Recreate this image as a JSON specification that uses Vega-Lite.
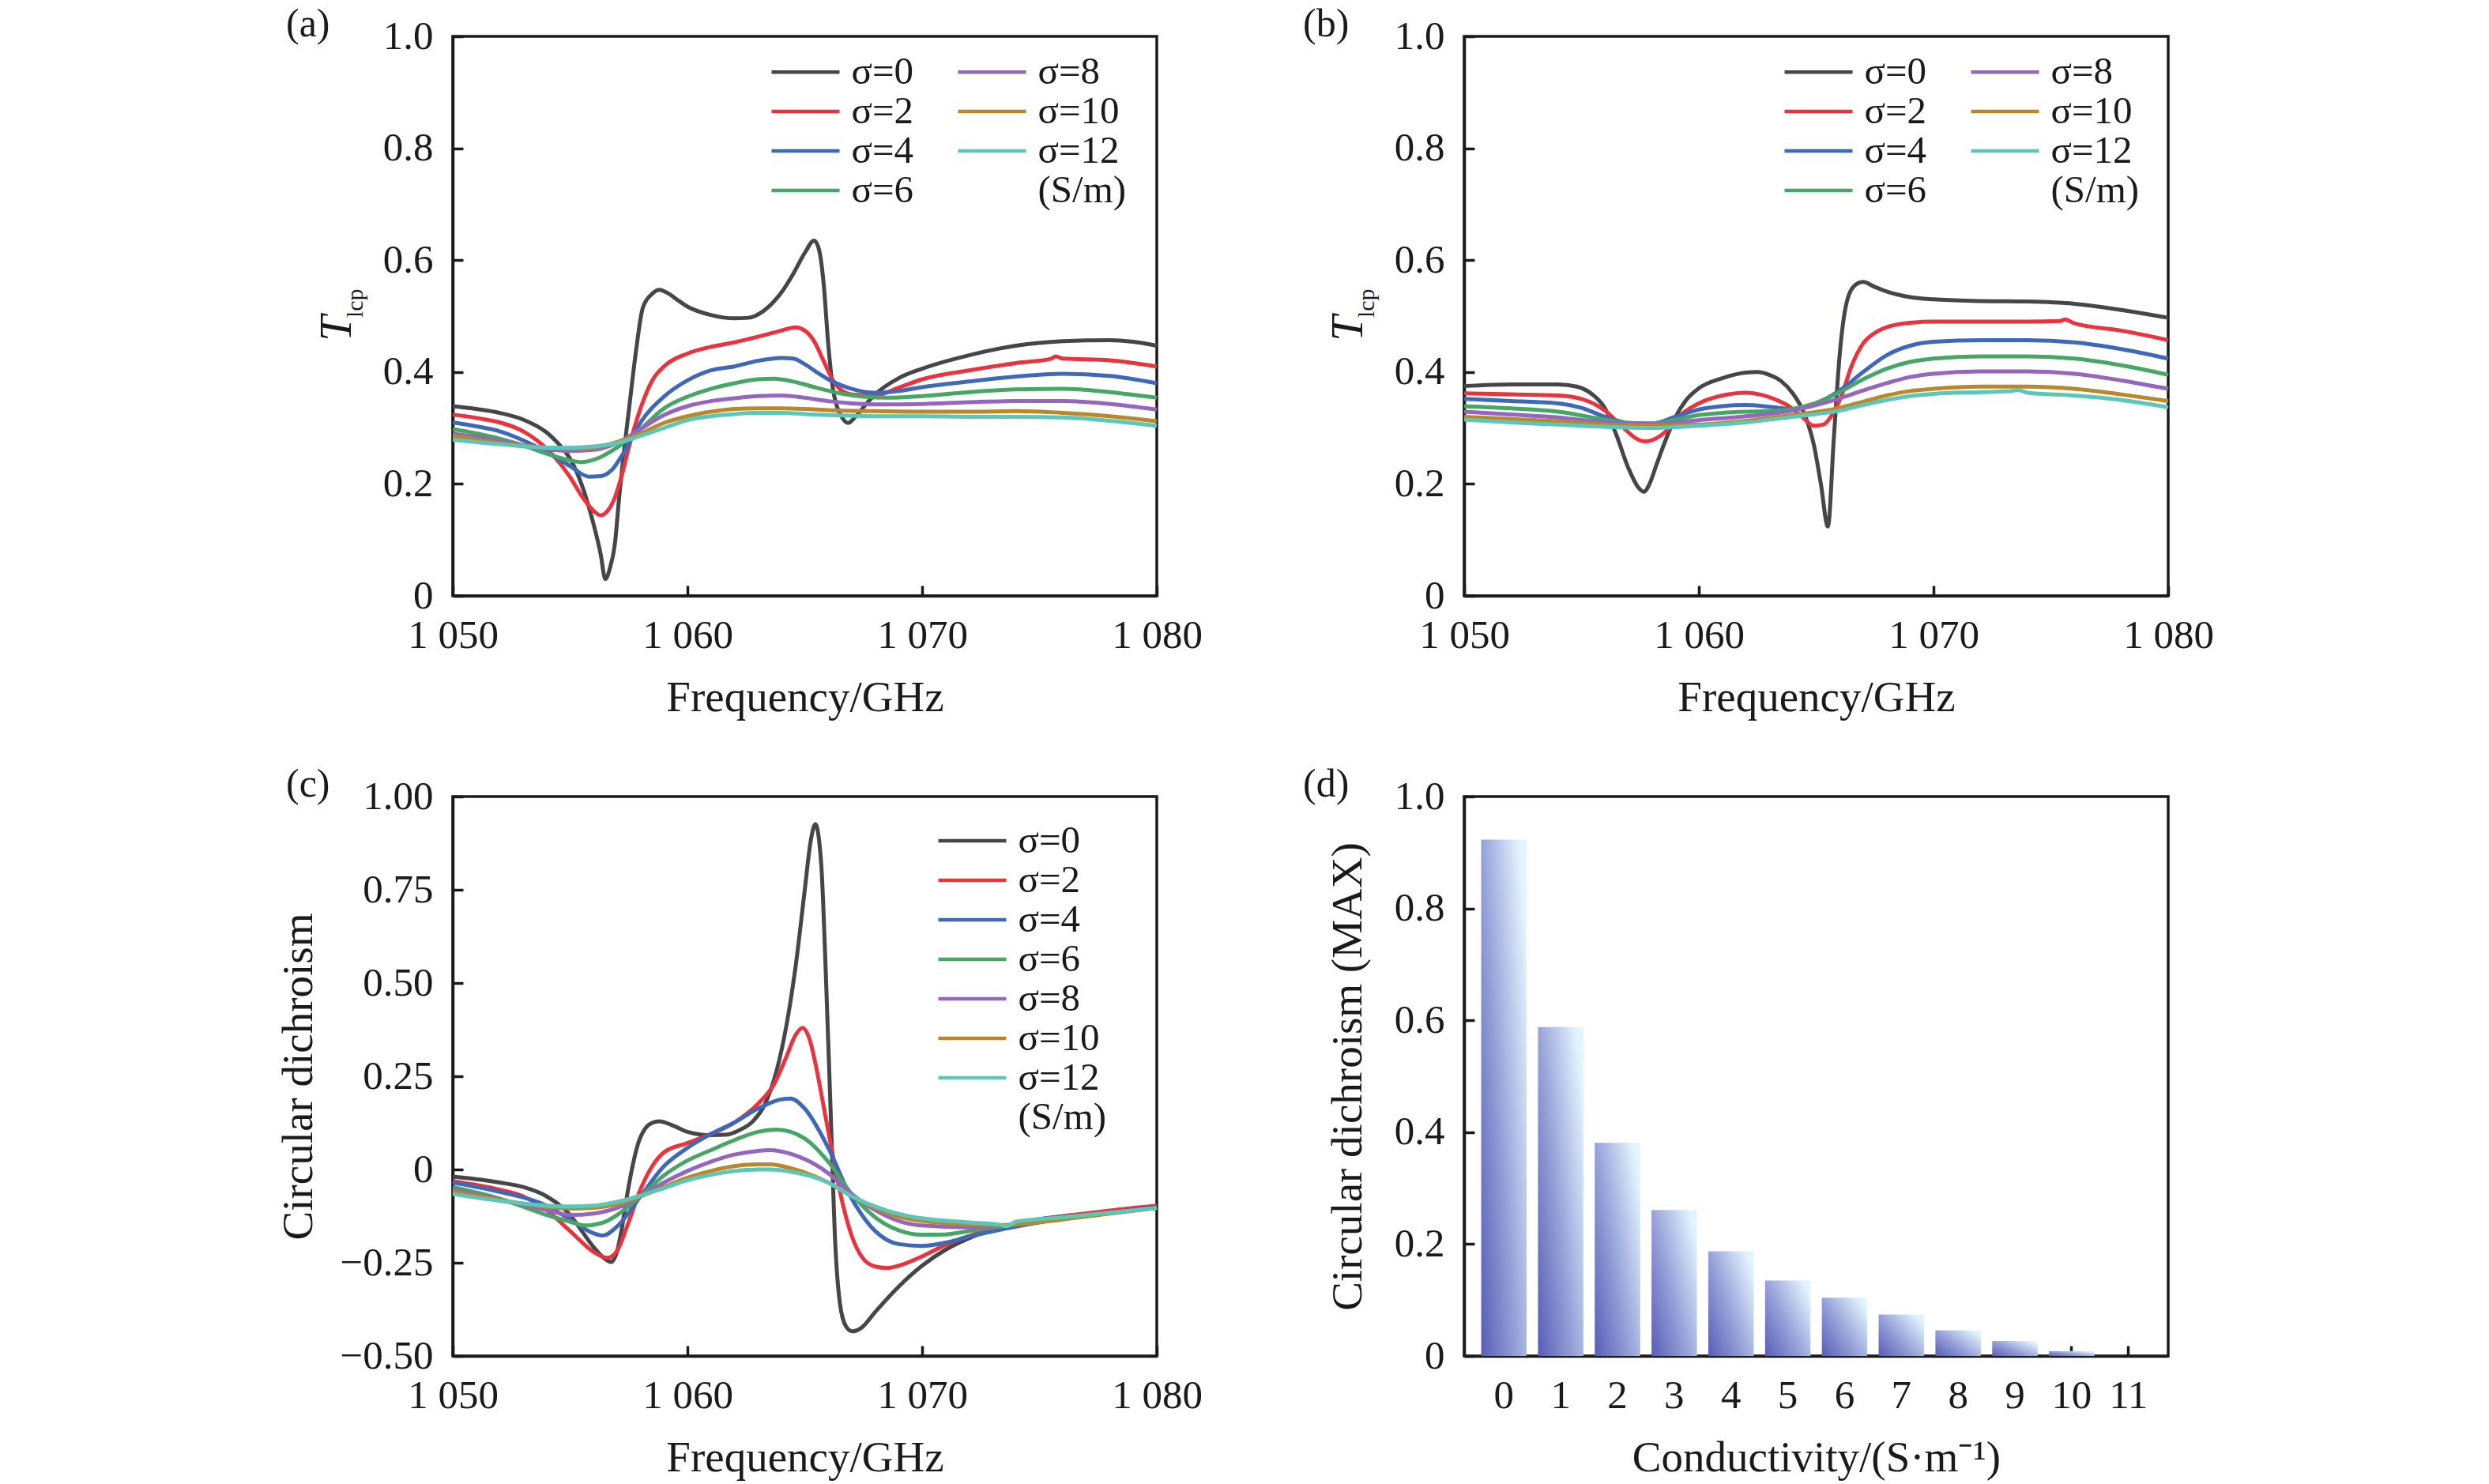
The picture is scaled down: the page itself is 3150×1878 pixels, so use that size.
{
  "$schema": "https://vega.github.io/schema/vega-lite/v6.json",
  "autosize": {"type": "none"},
  "padding": {"left": 573, "top": 46, "right": 2500, "bottom": 1832},
  "background": "white",
  "datasets": {
    "a": [
      {"s":"σ=0","f":1050,"v":0.339},{"s":"σ=0","f":1051,"v":0.334},{"s":"σ=0","f":1052,"v":0.327},{"s":"σ=0","f":1053,"v":0.315},{"s":"σ=0","f":1054,"v":0.292},{"s":"σ=0","f":1054.5,"v":0.272},{"s":"σ=0","f":1055,"v":0.245},{"s":"σ=0","f":1055.5,"v":0.198},{"s":"σ=0","f":1056,"v":0.128},{"s":"σ=0","f":1056.3,"v":0.075},{"s":"σ=0","f":1056.5,"v":0.03},{"s":"σ=0","f":1056.7,"v":0.05},{"s":"σ=0","f":1056.9,"v":0.09},{"s":"σ=0","f":1057.1,"v":0.18},{"s":"σ=0","f":1057.3,"v":0.26},{"s":"σ=0","f":1057.5,"v":0.33},{"s":"σ=0","f":1057.8,"v":0.435},{"s":"σ=0","f":1058.1,"v":0.515},{"s":"σ=0","f":1058.5,"v":0.54},{"s":"σ=0","f":1058.8,"v":0.547},{"s":"σ=0","f":1059.2,"v":0.54},{"s":"σ=0","f":1059.6,"v":0.528},{"s":"σ=0","f":1060,"v":0.517},{"s":"σ=0","f":1061,"v":0.502},{"s":"σ=0","f":1062,"v":0.496},{"s":"σ=0","f":1062.6,"v":0.497},{"s":"σ=0","f":1063.2,"v":0.508},{"s":"σ=0","f":1064,"v":0.542},{"s":"σ=0","f":1064.5,"v":0.575},{"s":"σ=0","f":1065,"v":0.613},{"s":"σ=0","f":1065.4,"v":0.635},{"s":"σ=0","f":1065.6,"v":0.62},{"s":"σ=0","f":1065.8,"v":0.56},{"s":"σ=0","f":1066,"v":0.45},{"s":"σ=0","f":1066.2,"v":0.37},{"s":"σ=0","f":1066.4,"v":0.335},{"s":"σ=0","f":1066.6,"v":0.318},{"s":"σ=0","f":1066.85,"v":0.309},{"s":"σ=0","f":1067.2,"v":0.322},{"s":"σ=0","f":1067.6,"v":0.342},{"s":"σ=0","f":1068,"v":0.36},{"s":"σ=0","f":1069,"v":0.389},{"s":"σ=0","f":1070,"v":0.406},{"s":"σ=0","f":1072,"v":0.43},{"s":"σ=0","f":1074,"v":0.447},{"s":"σ=0","f":1076,"v":0.455},{"s":"σ=0","f":1078,"v":0.457},{"s":"σ=0","f":1079,"v":0.454},{"s":"σ=0","f":1080,"v":0.447},
      {"s":"σ=2","f":1050,"v":0.324},{"s":"σ=2","f":1051,"v":0.318},{"s":"σ=2","f":1052,"v":0.31},{"s":"σ=2","f":1053,"v":0.294},{"s":"σ=2","f":1054,"v":0.263},{"s":"σ=2","f":1055,"v":0.212},{"s":"σ=2","f":1055.5,"v":0.178},{"s":"σ=2","f":1056,"v":0.152},{"s":"σ=2","f":1056.3,"v":0.144},{"s":"σ=2","f":1056.6,"v":0.152},{"s":"σ=2","f":1056.9,"v":0.175},{"s":"σ=2","f":1057.2,"v":0.215},{"s":"σ=2","f":1057.5,"v":0.265},{"s":"σ=2","f":1058,"v":0.335},{"s":"σ=2","f":1058.5,"v":0.385},{"s":"σ=2","f":1059,"v":0.41},{"s":"σ=2","f":1060,"v":0.433},{"s":"σ=2","f":1061,"v":0.445},{"s":"σ=2","f":1062,"v":0.453},{"s":"σ=2","f":1063,"v":0.463},{"s":"σ=2","f":1064,"v":0.474},{"s":"σ=2","f":1064.6,"v":0.48},{"s":"σ=2","f":1065,"v":0.474},{"s":"σ=2","f":1065.4,"v":0.455},{"s":"σ=2","f":1065.8,"v":0.42},{"s":"σ=2","f":1066.2,"v":0.385},{"s":"σ=2","f":1066.6,"v":0.366},{"s":"σ=2","f":1067,"v":0.36},{"s":"σ=2","f":1068,"v":0.358},{"s":"σ=2","f":1069,"v":0.372},{"s":"σ=2","f":1070,"v":0.387},{"s":"σ=2","f":1072,"v":0.403},{"s":"σ=2","f":1074,"v":0.416},{"s":"σ=2","f":1075.5,"v":0.424},{"s":"σ=2","f":1075.7,"v":0.428},{"s":"σ=2","f":1076,"v":0.424},{"s":"σ=2","f":1078,"v":0.421},{"s":"σ=2","f":1080,"v":0.41},
      {"s":"σ=4","f":1050,"v":0.31},{"s":"σ=4","f":1051,"v":0.303},{"s":"σ=4","f":1052,"v":0.294},{"s":"σ=4","f":1053,"v":0.278},{"s":"σ=4","f":1054,"v":0.257},{"s":"σ=4","f":1055,"v":0.232},{"s":"σ=4","f":1055.8,"v":0.213},{"s":"σ=4","f":1056.3,"v":0.214},{"s":"σ=4","f":1056.8,"v":0.226},{"s":"σ=4","f":1057.3,"v":0.257},{"s":"σ=4","f":1058,"v":0.31},{"s":"σ=4","f":1059,"v":0.356},{"s":"σ=4","f":1060,"v":0.385},{"s":"σ=4","f":1061,"v":0.403},{"s":"σ=4","f":1062,"v":0.41},{"s":"σ=4","f":1063,"v":0.42},{"s":"σ=4","f":1064,"v":0.425},{"s":"σ=4","f":1064.5,"v":0.424},{"s":"σ=4","f":1065,"v":0.414},{"s":"σ=4","f":1065.5,"v":0.4},{"s":"σ=4","f":1066,"v":0.387},{"s":"σ=4","f":1067,"v":0.37},{"s":"σ=4","f":1068,"v":0.363},{"s":"σ=4","f":1069,"v":0.366},{"s":"σ=4","f":1070,"v":0.373},{"s":"σ=4","f":1072,"v":0.383},{"s":"σ=4","f":1074,"v":0.392},{"s":"σ=4","f":1076,"v":0.397},{"s":"σ=4","f":1078,"v":0.393},{"s":"σ=4","f":1080,"v":0.38},
      {"s":"σ=6","f":1050,"v":0.298},{"s":"σ=6","f":1052,"v":0.281},{"s":"σ=6","f":1053,"v":0.269},{"s":"σ=6","f":1054,"v":0.254},{"s":"σ=6","f":1055,"v":0.242},{"s":"σ=6","f":1055.5,"v":0.239},{"s":"σ=6","f":1056,"v":0.243},{"s":"σ=6","f":1057,"v":0.265},{"s":"σ=6","f":1058,"v":0.298},{"s":"σ=6","f":1059,"v":0.335},{"s":"σ=6","f":1060,"v":0.356},{"s":"σ=6","f":1061,"v":0.37},{"s":"σ=6","f":1062,"v":0.38},{"s":"σ=6","f":1063,"v":0.387},{"s":"σ=6","f":1063.7,"v":0.388},{"s":"σ=6","f":1064.5,"v":0.383},{"s":"σ=6","f":1065.5,"v":0.372},{"s":"σ=6","f":1066.5,"v":0.362},{"s":"σ=6","f":1067.5,"v":0.356},{"s":"σ=6","f":1068.5,"v":0.354},{"s":"σ=6","f":1070,"v":0.357},{"s":"σ=6","f":1072,"v":0.364},{"s":"σ=6","f":1074,"v":0.369},{"s":"σ=6","f":1076,"v":0.37},{"s":"σ=6","f":1078,"v":0.364},{"s":"σ=6","f":1080,"v":0.354},
      {"s":"σ=8","f":1050,"v":0.29},{"s":"σ=8","f":1052,"v":0.277},{"s":"σ=8","f":1053,"v":0.269},{"s":"σ=8","f":1054,"v":0.262},{"s":"σ=8","f":1055,"v":0.259},{"s":"σ=8","f":1056,"v":0.261},{"s":"σ=8","f":1057,"v":0.273},{"s":"σ=8","f":1058,"v":0.298},{"s":"σ=8","f":1059,"v":0.323},{"s":"σ=8","f":1060,"v":0.339},{"s":"σ=8","f":1061,"v":0.348},{"s":"σ=8","f":1062,"v":0.353},{"s":"σ=8","f":1063,"v":0.357},{"s":"σ=8","f":1064,"v":0.358},{"s":"σ=8","f":1065,"v":0.354},{"s":"σ=8","f":1066,"v":0.348},{"s":"σ=8","f":1067,"v":0.344},{"s":"σ=8","f":1068,"v":0.342},{"s":"σ=8","f":1070,"v":0.343},{"s":"σ=8","f":1072,"v":0.346},{"s":"σ=8","f":1074,"v":0.348},{"s":"σ=8","f":1076,"v":0.348},{"s":"σ=8","f":1078,"v":0.343},{"s":"σ=8","f":1080,"v":0.333},
      {"s":"σ=10","f":1050,"v":0.286},{"s":"σ=10","f":1052,"v":0.273},{"s":"σ=10","f":1054,"v":0.265},{"s":"σ=10","f":1055,"v":0.263},{"s":"σ=10","f":1056,"v":0.265},{"s":"σ=10","f":1057,"v":0.275},{"s":"σ=10","f":1058,"v":0.29},{"s":"σ=10","f":1059,"v":0.309},{"s":"σ=10","f":1060,"v":0.321},{"s":"σ=10","f":1061,"v":0.329},{"s":"σ=10","f":1062,"v":0.334},{"s":"σ=10","f":1063,"v":0.335},{"s":"σ=10","f":1064,"v":0.335},{"s":"σ=10","f":1065,"v":0.334},{"s":"σ=10","f":1066,"v":0.332},{"s":"σ=10","f":1068,"v":0.33},{"s":"σ=10","f":1070,"v":0.329},{"s":"σ=10","f":1072,"v":0.329},{"s":"σ=10","f":1074,"v":0.33},{"s":"σ=10","f":1076,"v":0.327},{"s":"σ=10","f":1078,"v":0.321},{"s":"σ=10","f":1080,"v":0.312},
      {"s":"σ=12","f":1050,"v":0.279},{"s":"σ=12","f":1052,"v":0.271},{"s":"σ=12","f":1054,"v":0.265},{"s":"σ=12","f":1055,"v":0.265},{"s":"σ=12","f":1056,"v":0.267},{"s":"σ=12","f":1057,"v":0.273},{"s":"σ=12","f":1058,"v":0.286},{"s":"σ=12","f":1059,"v":0.3},{"s":"σ=12","f":1060,"v":0.314},{"s":"σ=12","f":1061,"v":0.321},{"s":"σ=12","f":1062,"v":0.325},{"s":"σ=12","f":1063,"v":0.327},{"s":"σ=12","f":1064,"v":0.327},{"s":"σ=12","f":1065,"v":0.325},{"s":"σ=12","f":1066,"v":0.323},{"s":"σ=12","f":1068,"v":0.321},{"s":"σ=12","f":1070,"v":0.321},{"s":"σ=12","f":1072,"v":0.32},{"s":"σ=12","f":1074,"v":0.32},{"s":"σ=12","f":1076,"v":0.319},{"s":"σ=12","f":1078,"v":0.313},{"s":"σ=12","f":1080,"v":0.304}
    ],
    "b": [
      {"s":"σ=0","f":1050,"v":0.375},{"s":"σ=0","f":1052,"v":0.378},{"s":"σ=0","f":1054,"v":0.378},{"s":"σ=0","f":1054.8,"v":0.374},{"s":"σ=0","f":1055.4,"v":0.362},{"s":"σ=0","f":1056,"v":0.335},{"s":"σ=0","f":1056.5,"v":0.286},{"s":"σ=0","f":1057,"v":0.228},{"s":"σ=0","f":1057.4,"v":0.195},{"s":"σ=0","f":1057.65,"v":0.186},{"s":"σ=0","f":1057.9,"v":0.2},{"s":"σ=0","f":1058.2,"v":0.235},{"s":"σ=0","f":1058.6,"v":0.28},{"s":"σ=0","f":1059,"v":0.319},{"s":"σ=0","f":1059.5,"v":0.352},{"s":"σ=0","f":1060,"v":0.371},{"s":"σ=0","f":1061,"v":0.389},{"s":"σ=0","f":1062,"v":0.399},{"s":"σ=0","f":1062.5,"v":0.4},{"s":"σ=0","f":1063,"v":0.395},{"s":"σ=0","f":1063.5,"v":0.384},{"s":"σ=0","f":1064,"v":0.362},{"s":"σ=0","f":1064.5,"v":0.325},{"s":"σ=0","f":1064.9,"v":0.27},{"s":"σ=0","f":1065.2,"v":0.2},{"s":"σ=0","f":1065.5,"v":0.124},{"s":"σ=0","f":1065.75,"v":0.28},{"s":"σ=0","f":1066,"v":0.43},{"s":"σ=0","f":1066.25,"v":0.515},{"s":"σ=0","f":1066.6,"v":0.553},{"s":"σ=0","f":1067,"v":0.561},{"s":"σ=0","f":1067.5,"v":0.552},{"s":"σ=0","f":1068,"v":0.544},{"s":"σ=0","f":1069,"v":0.534},{"s":"σ=0","f":1070,"v":0.53},{"s":"σ=0","f":1072,"v":0.527},{"s":"σ=0","f":1074,"v":0.526},{"s":"σ=0","f":1076,"v":0.522},{"s":"σ=0","f":1078,"v":0.511},{"s":"σ=0","f":1080,"v":0.497},
      {"s":"σ=2","f":1050,"v":0.362},{"s":"σ=2","f":1052,"v":0.36},{"s":"σ=2","f":1054,"v":0.358},{"s":"σ=2","f":1055,"v":0.352},{"s":"σ=2","f":1056,"v":0.331},{"s":"σ=2","f":1056.8,"v":0.3},{"s":"σ=2","f":1057.3,"v":0.282},{"s":"σ=2","f":1057.7,"v":0.276},{"s":"σ=2","f":1058.2,"v":0.282},{"s":"σ=2","f":1058.7,"v":0.298},{"s":"σ=2","f":1059.2,"v":0.322},{"s":"σ=2","f":1060,"v":0.344},{"s":"σ=2","f":1061,"v":0.358},{"s":"σ=2","f":1062,"v":0.363},{"s":"σ=2","f":1062.6,"v":0.36},{"s":"σ=2","f":1063.2,"v":0.352},{"s":"σ=2","f":1063.8,"v":0.34},{"s":"σ=2","f":1064.4,"v":0.32},{"s":"σ=2","f":1064.9,"v":0.304},{"s":"σ=2","f":1065.3,"v":0.306},{"s":"σ=2","f":1065.7,"v":0.325},{"s":"σ=2","f":1066.1,"v":0.36},{"s":"σ=2","f":1066.5,"v":0.41},{"s":"σ=2","f":1067,"v":0.451},{"s":"σ=2","f":1067.5,"v":0.47},{"s":"σ=2","f":1068,"v":0.48},{"s":"σ=2","f":1069,"v":0.488},{"s":"σ=2","f":1070,"v":0.49},{"s":"σ=2","f":1072,"v":0.49},{"s":"σ=2","f":1074,"v":0.49},{"s":"σ=2","f":1075.4,"v":0.491},{"s":"σ=2","f":1075.6,"v":0.494},{"s":"σ=2","f":1076,"v":0.487},{"s":"σ=2","f":1078,"v":0.474},{"s":"σ=2","f":1080,"v":0.457},
      {"s":"σ=4","f":1050,"v":0.352},{"s":"σ=4","f":1052,"v":0.348},{"s":"σ=4","f":1054,"v":0.344},{"s":"σ=4","f":1055,"v":0.336},{"s":"σ=4","f":1056,"v":0.32},{"s":"σ=4","f":1057,"v":0.309},{"s":"σ=4","f":1058,"v":0.308},{"s":"σ=4","f":1059,"v":0.32},{"s":"σ=4","f":1060,"v":0.333},{"s":"σ=4","f":1061,"v":0.339},{"s":"σ=4","f":1062,"v":0.341},{"s":"σ=4","f":1063,"v":0.338},{"s":"σ=4","f":1064,"v":0.334},{"s":"σ=4","f":1065,"v":0.344},{"s":"σ=4","f":1066,"v":0.367},{"s":"σ=4","f":1067,"v":0.4},{"s":"σ=4","f":1068,"v":0.43},{"s":"σ=4","f":1069,"v":0.447},{"s":"σ=4","f":1070,"v":0.454},{"s":"σ=4","f":1072,"v":0.457},{"s":"σ=4","f":1074,"v":0.457},{"s":"σ=4","f":1076,"v":0.453},{"s":"σ=4","f":1078,"v":0.441},{"s":"σ=4","f":1080,"v":0.424},
      {"s":"σ=6","f":1050,"v":0.339},{"s":"σ=6","f":1052,"v":0.335},{"s":"σ=6","f":1054,"v":0.329},{"s":"σ=6","f":1056,"v":0.315},{"s":"σ=6","f":1057,"v":0.309},{"s":"σ=6","f":1058,"v":0.308},{"s":"σ=6","f":1059,"v":0.315},{"s":"σ=6","f":1060,"v":0.323},{"s":"σ=6","f":1061,"v":0.327},{"s":"σ=6","f":1062,"v":0.329},{"s":"σ=6","f":1063,"v":0.33},{"s":"σ=6","f":1064,"v":0.334},{"s":"σ=6","f":1065,"v":0.345},{"s":"σ=6","f":1066,"v":0.364},{"s":"σ=6","f":1067,"v":0.387},{"s":"σ=6","f":1068,"v":0.406},{"s":"σ=6","f":1069,"v":0.418},{"s":"σ=6","f":1070,"v":0.424},{"s":"σ=6","f":1072,"v":0.428},{"s":"σ=6","f":1074,"v":0.428},{"s":"σ=6","f":1076,"v":0.424},{"s":"σ=6","f":1078,"v":0.412},{"s":"σ=6","f":1080,"v":0.395},
      {"s":"σ=8","f":1050,"v":0.329},{"s":"σ=8","f":1052,"v":0.324},{"s":"σ=8","f":1054,"v":0.319},{"s":"σ=8","f":1056,"v":0.31},{"s":"σ=8","f":1058,"v":0.307},{"s":"σ=8","f":1060,"v":0.314},{"s":"σ=8","f":1062,"v":0.321},{"s":"σ=8","f":1064,"v":0.331},{"s":"σ=8","f":1065,"v":0.341},{"s":"σ=8","f":1066,"v":0.353},{"s":"σ=8","f":1067,"v":0.367},{"s":"σ=8","f":1068,"v":0.38},{"s":"σ=8","f":1069,"v":0.391},{"s":"σ=8","f":1070,"v":0.397},{"s":"σ=8","f":1072,"v":0.401},{"s":"σ=8","f":1074,"v":0.401},{"s":"σ=8","f":1076,"v":0.397},{"s":"σ=8","f":1078,"v":0.385},{"s":"σ=8","f":1080,"v":0.37},
      {"s":"σ=10","f":1050,"v":0.32},{"s":"σ=10","f":1052,"v":0.316},{"s":"σ=10","f":1054,"v":0.312},{"s":"σ=10","f":1056,"v":0.306},{"s":"σ=10","f":1058,"v":0.304},{"s":"σ=10","f":1060,"v":0.306},{"s":"σ=10","f":1062,"v":0.313},{"s":"σ=10","f":1064,"v":0.323},{"s":"σ=10","f":1066,"v":0.336},{"s":"σ=10","f":1067,"v":0.347},{"s":"σ=10","f":1068,"v":0.358},{"s":"σ=10","f":1069,"v":0.366},{"s":"σ=10","f":1070,"v":0.37},{"s":"σ=10","f":1072,"v":0.374},{"s":"σ=10","f":1074,"v":0.374},{"s":"σ=10","f":1076,"v":0.37},{"s":"σ=10","f":1078,"v":0.36},{"s":"σ=10","f":1080,"v":0.348},
      {"s":"σ=12","f":1050,"v":0.315},{"s":"σ=12","f":1052,"v":0.31},{"s":"σ=12","f":1054,"v":0.306},{"s":"σ=12","f":1056,"v":0.302},{"s":"σ=12","f":1058,"v":0.3},{"s":"σ=12","f":1060,"v":0.304},{"s":"σ=12","f":1062,"v":0.31},{"s":"σ=12","f":1064,"v":0.32},{"s":"σ=12","f":1066,"v":0.331},{"s":"σ=12","f":1067,"v":0.341},{"s":"σ=12","f":1068,"v":0.35},{"s":"σ=12","f":1069,"v":0.357},{"s":"σ=12","f":1070,"v":0.361},{"s":"σ=12","f":1072,"v":0.364},{"s":"σ=12","f":1073.3,"v":0.366},{"s":"σ=12","f":1073.6,"v":0.368},{"s":"σ=12","f":1074,"v":0.363},{"s":"σ=12","f":1076,"v":0.358},{"s":"σ=12","f":1078,"v":0.35},{"s":"σ=12","f":1080,"v":0.337}
    ],
    "c": [
      {"s":"σ=0","f":1050,"v":-0.019},{"s":"σ=0","f":1051,"v":-0.026},{"s":"σ=0","f":1052,"v":-0.035},{"s":"σ=0","f":1053,"v":-0.047},{"s":"σ=0","f":1054,"v":-0.072},{"s":"σ=0","f":1055,"v":-0.122},{"s":"σ=0","f":1055.5,"v":-0.165},{"s":"σ=0","f":1056,"v":-0.208},{"s":"σ=0","f":1056.4,"v":-0.235},{"s":"σ=0","f":1056.75,"v":-0.248},{"s":"σ=0","f":1057,"v":-0.22},{"s":"σ=0","f":1057.2,"v":-0.16},{"s":"σ=0","f":1057.4,"v":-0.08},{"s":"σ=0","f":1057.6,"v":-0.01},{"s":"σ=0","f":1057.9,"v":0.07},{"s":"σ=0","f":1058.2,"v":0.11},{"s":"σ=0","f":1058.5,"v":0.125},{"s":"σ=0","f":1058.8,"v":0.129},{"s":"σ=0","f":1059.3,"v":0.12},{"s":"σ=0","f":1060,"v":0.101},{"s":"σ=0","f":1061,"v":0.092},{"s":"σ=0","f":1061.6,"v":0.093},{"s":"σ=0","f":1062.2,"v":0.105},{"s":"σ=0","f":1062.8,"v":0.13},{"s":"σ=0","f":1063.3,"v":0.175},{"s":"σ=0","f":1063.8,"v":0.265},{"s":"σ=0","f":1064.2,"v":0.38},{"s":"σ=0","f":1064.6,"v":0.54},{"s":"σ=0","f":1065,"v":0.75},{"s":"σ=0","f":1065.25,"v":0.88},{"s":"σ=0","f":1065.45,"v":0.926},{"s":"σ=0","f":1065.7,"v":0.82},{"s":"σ=0","f":1065.9,"v":0.52},{"s":"σ=0","f":1066.1,"v":0.16},{"s":"σ=0","f":1066.3,"v":-0.2},{"s":"σ=0","f":1066.5,"v":-0.36},{"s":"σ=0","f":1066.75,"v":-0.42},{"s":"σ=0","f":1067.03,"v":-0.434},{"s":"σ=0","f":1067.4,"v":-0.425},{"s":"σ=0","f":1068,"v":-0.382},{"s":"σ=0","f":1069,"v":-0.314},{"s":"σ=0","f":1070,"v":-0.258},{"s":"σ=0","f":1071,"v":-0.215},{"s":"σ=0","f":1072,"v":-0.184},{"s":"σ=0","f":1074,"v":-0.144},{"s":"σ=0","f":1076,"v":-0.125},{"s":"σ=0","f":1078,"v":-0.113},{"s":"σ=0","f":1080,"v":-0.098},
      {"s":"σ=2","f":1050,"v":-0.031},{"s":"σ=2","f":1052,"v":-0.054},{"s":"σ=2","f":1053,"v":-0.072},{"s":"σ=2","f":1054,"v":-0.109},{"s":"σ=2","f":1055,"v":-0.165},{"s":"σ=2","f":1056,"v":-0.221},{"s":"σ=2","f":1056.6,"v":-0.237},{"s":"σ=2","f":1057,"v":-0.218},{"s":"σ=2","f":1057.5,"v":-0.14},{"s":"σ=2","f":1058,"v":-0.053},{"s":"σ=2","f":1058.5,"v":0.009},{"s":"σ=2","f":1059,"v":0.046},{"s":"σ=2","f":1060,"v":0.071},{"s":"σ=2","f":1061,"v":0.095},{"s":"σ=2","f":1062,"v":0.126},{"s":"σ=2","f":1063,"v":0.176},{"s":"σ=2","f":1063.7,"v":0.23},{"s":"σ=2","f":1064.2,"v":0.3},{"s":"σ=2","f":1064.6,"v":0.36},{"s":"σ=2","f":1064.9,"v":0.38},{"s":"σ=2","f":1065.2,"v":0.35},{"s":"σ=2","f":1065.5,"v":0.27},{"s":"σ=2","f":1065.8,"v":0.17},{"s":"σ=2","f":1066.1,"v":0.07},{"s":"σ=2","f":1066.5,"v":-0.06},{"s":"σ=2","f":1067,"v":-0.178},{"s":"σ=2","f":1067.5,"v":-0.24},{"s":"σ=2","f":1068,"v":-0.26},{"s":"σ=2","f":1068.5,"v":-0.264},{"s":"σ=2","f":1069,"v":-0.258},{"s":"σ=2","f":1070,"v":-0.233},{"s":"σ=2","f":1071,"v":-0.202},{"s":"σ=2","f":1072,"v":-0.178},{"s":"σ=2","f":1074,"v":-0.147},{"s":"σ=2","f":1076,"v":-0.126},{"s":"σ=2","f":1078,"v":-0.11},{"s":"σ=2","f":1080,"v":-0.097},
      {"s":"σ=4","f":1050,"v":-0.035},{"s":"σ=4","f":1052,"v":-0.06},{"s":"σ=4","f":1054,"v":-0.097},{"s":"σ=4","f":1055,"v":-0.134},{"s":"σ=4","f":1056,"v":-0.171},{"s":"σ=4","f":1056.4,"v":-0.177},{"s":"σ=4","f":1057,"v":-0.153},{"s":"σ=4","f":1058,"v":-0.072},{"s":"σ=4","f":1059,"v":0.009},{"s":"σ=4","f":1060,"v":0.058},{"s":"σ=4","f":1061,"v":0.095},{"s":"σ=4","f":1062,"v":0.126},{"s":"σ=4","f":1063,"v":0.163},{"s":"σ=4","f":1064,"v":0.188},{"s":"σ=4","f":1064.4,"v":0.19},{"s":"σ=4","f":1065,"v":0.163},{"s":"σ=4","f":1066,"v":0.058},{"s":"σ=4","f":1067,"v":-0.078},{"s":"σ=4","f":1068,"v":-0.165},{"s":"σ=4","f":1069,"v":-0.2},{"s":"σ=4","f":1070,"v":-0.205},{"s":"σ=4","f":1071,"v":-0.196},{"s":"σ=4","f":1072,"v":-0.18},{"s":"σ=4","f":1074,"v":-0.153},{"s":"σ=4","f":1076,"v":-0.132},{"s":"σ=4","f":1078,"v":-0.116},{"s":"σ=4","f":1080,"v":-0.1},
      {"s":"σ=6","f":1050,"v":-0.047},{"s":"σ=6","f":1052,"v":-0.078},{"s":"σ=6","f":1054,"v":-0.122},{"s":"σ=6","f":1055,"v":-0.14},{"s":"σ=6","f":1055.6,"v":-0.15},{"s":"σ=6","f":1056.5,"v":-0.14},{"s":"σ=6","f":1057,"v":-0.122},{"s":"σ=6","f":1058,"v":-0.072},{"s":"σ=6","f":1059,"v":-0.016},{"s":"σ=6","f":1060,"v":0.024},{"s":"σ=6","f":1061,"v":0.052},{"s":"σ=6","f":1062,"v":0.079},{"s":"σ=6","f":1063,"v":0.101},{"s":"σ=6","f":1063.8,"v":0.107},{"s":"σ=6","f":1065,"v":0.083},{"s":"σ=6","f":1066,"v":0.021},{"s":"σ=6","f":1067,"v":-0.066},{"s":"σ=6","f":1068,"v":-0.128},{"s":"σ=6","f":1069,"v":-0.163},{"s":"σ=6","f":1070,"v":-0.175},{"s":"σ=6","f":1071,"v":-0.174},{"s":"σ=6","f":1072,"v":-0.165},{"s":"σ=6","f":1074,"v":-0.147},{"s":"σ=6","f":1076,"v":-0.13},{"s":"σ=6","f":1078,"v":-0.116},{"s":"σ=6","f":1080,"v":-0.103},
      {"s":"σ=8","f":1050,"v":-0.054},{"s":"σ=8","f":1052,"v":-0.081},{"s":"σ=8","f":1054,"v":-0.109},{"s":"σ=8","f":1055,"v":-0.122},{"s":"σ=8","f":1056,"v":-0.118},{"s":"σ=8","f":1057,"v":-0.103},{"s":"σ=8","f":1058,"v":-0.072},{"s":"σ=8","f":1059,"v":-0.035},{"s":"σ=8","f":1060,"v":-0.004},{"s":"σ=8","f":1061,"v":0.021},{"s":"σ=8","f":1062,"v":0.04},{"s":"σ=8","f":1063,"v":0.05},{"s":"σ=8","f":1063.5,"v":0.052},{"s":"σ=8","f":1064.5,"v":0.04},{"s":"σ=8","f":1066,"v":-0.01},{"s":"σ=8","f":1067,"v":-0.066},{"s":"σ=8","f":1068,"v":-0.109},{"s":"σ=8","f":1069,"v":-0.138},{"s":"σ=8","f":1070,"v":-0.15},{"s":"σ=8","f":1072,"v":-0.155},{"s":"σ=8","f":1073,"v":-0.153},{"s":"σ=8","f":1074,"v":-0.147},{"s":"σ=8","f":1076,"v":-0.132},{"s":"σ=8","f":1078,"v":-0.116},{"s":"σ=8","f":1080,"v":-0.103},
      {"s":"σ=10","f":1050,"v":-0.06},{"s":"σ=10","f":1052,"v":-0.082},{"s":"σ=10","f":1054,"v":-0.1},{"s":"σ=10","f":1055,"v":-0.105},{"s":"σ=10","f":1056,"v":-0.103},{"s":"σ=10","f":1057,"v":-0.093},{"s":"σ=10","f":1058,"v":-0.072},{"s":"σ=10","f":1059,"v":-0.047},{"s":"σ=10","f":1060,"v":-0.022},{"s":"σ=10","f":1061,"v":-0.004},{"s":"σ=10","f":1062,"v":0.009},{"s":"σ=10","f":1063,"v":0.014},{"s":"σ=10","f":1063.5,"v":0.014},{"s":"σ=10","f":1064.5,"v":0.002},{"s":"σ=10","f":1066,"v":-0.035},{"s":"σ=10","f":1067,"v":-0.072},{"s":"σ=10","f":1068,"v":-0.103},{"s":"σ=10","f":1069,"v":-0.126},{"s":"σ=10","f":1070,"v":-0.138},{"s":"σ=10","f":1072,"v":-0.147},{"s":"σ=10","f":1073.5,"v":-0.149},{"s":"σ=10","f":1074,"v":-0.147},{"s":"σ=10","f":1076,"v":-0.134},{"s":"σ=10","f":1078,"v":-0.118},{"s":"σ=10","f":1080,"v":-0.103},
      {"s":"σ=12","f":1050,"v":-0.066},{"s":"σ=12","f":1052,"v":-0.084},{"s":"σ=12","f":1054,"v":-0.097},{"s":"σ=12","f":1055,"v":-0.099},{"s":"σ=12","f":1056,"v":-0.097},{"s":"σ=12","f":1057,"v":-0.087},{"s":"σ=12","f":1058,"v":-0.07},{"s":"σ=12","f":1059,"v":-0.05},{"s":"σ=12","f":1060,"v":-0.029},{"s":"σ=12","f":1061,"v":-0.014},{"s":"σ=12","f":1062,"v":-0.004},{"s":"σ=12","f":1063,"v":0.0},{"s":"σ=12","f":1063.5,"v":0.0},{"s":"σ=12","f":1064.5,"v":-0.007},{"s":"σ=12","f":1066,"v":-0.035},{"s":"σ=12","f":1067,"v":-0.072},{"s":"σ=12","f":1068,"v":-0.099},{"s":"σ=12","f":1069,"v":-0.119},{"s":"σ=12","f":1070,"v":-0.131},{"s":"σ=12","f":1072,"v":-0.142},{"s":"σ=12","f":1073.3,"v":-0.148},{"s":"σ=12","f":1073.6,"v":-0.152},{"s":"σ=12","f":1074,"v":-0.14},{"s":"σ=12","f":1076,"v":-0.128},{"s":"σ=12","f":1078,"v":-0.116},{"s":"σ=12","f":1080,"v":-0.103}
    ],
    "d": [
      {"c":0,"m":0.923},{"c":1,"m":0.588},{"c":2,"m":0.381},{"c":3,"m":0.261},{"c":4,"m":0.187},{"c":5,"m":0.135},{"c":6,"m":0.104},{"c":7,"m":0.074},{"c":8,"m":0.046},{"c":9,"m":0.027},{"c":10,"m":0.009},{"c":11,"m":0}
    ]
  },
  "columns": 2,
  "spacing": {"row": 254, "column": 389},
  "bounds": "flush",
  "resolve": {
    "scale": {"x": "independent", "y": "independent", "color": "independent"},
    "legend": {"color": "independent"}
  },
  "concat": [
    {
      "width": 891,
      "height": 708,
      "title": {"text": "(a)", "dx": -211, "dy": 40},
      "layer": [
        {
          "data": {"name": "a"},
          "mark": {"type": "line", "interpolate": "monotone", "strokeWidth": 5},
          "encoding": {
            "x": {"field": "f", "type": "quantitative", "scale": {"domain": [1050, 1080], "nice": false, "zero": false},
              "axis": {"values": [1050, 1060, 1070, 1080], "labelExpr": "'1 ' + substring(toString(datum.value), 1)", "title": "Frequency/GHz", "titlePadding": 27}},
            "y": {"field": "v", "type": "quantitative", "scale": {"domain": [0, 1], "nice": false},
              "axis": {"values": [0, 0.2, 0.4, 0.6, 0.8, 1], "labelExpr": "datum.value == 0 ? '0' : format(datum.value, '.1f')", "title": "T", "titleFontStyle": "italic", "titleFontSize": 58, "titleY": 369, "titlePadding": 29}},
            "color": {"field": "s", "type": "nominal",
              "scale": {"domain": ["σ=0", "σ=2", "σ=4", "σ=6", "σ=8", "σ=10", "σ=12", "(S/m)"],
                "range": ["#46464a", "#e8343f", "#3e68b8", "#47a565", "#9466bd", "#b8892b", "#5cc6b8", "transparent"]},
              "legend": {"orient": "none", "legendX": 422, "legendY": 20.5, "columns": 2, "symbolType": "M-2,0H2", "symbolSize": 1849}}
          }
        },
        {
          "data": {"values": [{"t": "lcp"}]},
          "mark": {"type": "text", "angle": 270, "fontSize": 30, "align": "center", "baseline": "middle", "dy": -123, "color": "#1a1a1a"},
          "encoding": {"x": {"datum": 1050}, "y": {"datum": 0.523}, "text": {"field": "t"}}
        }
      ]
    },
    {
      "width": 891,
      "height": 708,
      "title": {"text": "(b)", "dx": -204, "dy": 40},
      "layer": [
        {
          "data": {"name": "b"},
          "mark": {"type": "line", "interpolate": "monotone", "strokeWidth": 5},
          "encoding": {
            "x": {"field": "f", "type": "quantitative", "scale": {"domain": [1050, 1080], "nice": false, "zero": false},
              "axis": {"values": [1050, 1060, 1070, 1080], "labelExpr": "'1 ' + substring(toString(datum.value), 1)", "title": "Frequency/GHz", "titlePadding": 27}},
            "y": {"field": "v", "type": "quantitative", "scale": {"domain": [0, 1], "nice": false},
              "axis": {"values": [0, 0.2, 0.4, 0.6, 0.8, 1], "labelExpr": "datum.value == 0 ? '0' : format(datum.value, '.1f')", "title": "T", "titleFontStyle": "italic", "titleFontSize": 58, "titleY": 369, "titlePadding": 29}},
            "color": {"field": "s", "type": "nominal",
              "scale": {"domain": ["σ=0", "σ=2", "σ=4", "σ=6", "σ=8", "σ=10", "σ=12", "(S/m)"],
                "range": ["#46464a", "#e8343f", "#3e68b8", "#47a565", "#9466bd", "#b8892b", "#5cc6b8", "transparent"]},
              "legend": {"orient": "none", "legendX": 424, "legendY": 20.5, "columns": 2, "symbolType": "M-2,0H2", "symbolSize": 1849}}
          }
        },
        {
          "data": {"values": [{"t": "lcp"}]},
          "mark": {"type": "text", "angle": 270, "fontSize": 30, "align": "center", "baseline": "middle", "dy": -123, "color": "#1a1a1a"},
          "encoding": {"x": {"datum": 1050}, "y": {"datum": 0.523}, "text": {"field": "t"}}
        }
      ]
    },
    {
      "width": 891,
      "height": 708,
      "title": {"text": "(c)", "dx": -211, "dy": 40},
      "data": {"name": "c"},
      "mark": {"type": "line", "interpolate": "monotone", "strokeWidth": 5},
      "encoding": {
        "x": {"field": "f", "type": "quantitative", "scale": {"domain": [1050, 1080], "nice": false, "zero": false},
          "axis": {"values": [1050, 1060, 1070, 1080], "labelExpr": "'1 ' + substring(toString(datum.value), 1)", "title": "Frequency/GHz", "titlePadding": 27}},
        "y": {"field": "v", "type": "quantitative", "scale": {"domain": [-0.5, 1], "nice": false, "zero": false},
          "axis": {"values": [-0.5, -0.25, 0, 0.25, 0.5, 0.75, 1], "labelExpr": "datum.value == 0 ? '0' : format(datum.value, '.2f')", "title": "Circular dichroism", "titlePadding": 23}},
        "color": {"field": "s", "type": "nominal",
          "scale": {"domain": ["σ=0", "σ=2", "σ=4", "σ=6", "σ=8", "σ=10", "σ=12", "(S/m)"],
            "range": ["#46464a", "#e8343f", "#3e68b8", "#47a565", "#9466bd", "#b8892b", "#5cc6b8", "transparent"]},
          "legend": {"orient": "none", "legendX": 633, "legendY": 31.5, "columns": 1, "symbolType": "M-2,0H2", "symbolSize": 1849}}
      }
    },
    {
      "width": 891,
      "height": 708,
      "title": {"text": "(d)", "dx": -204, "dy": 40},
      "data": {"name": "d"},
      "mark": {"type": "bar", "color": {"gradient": "linear", "x1": 0, "y1": 1, "x2": 1, "y2": 0.2,
        "stops": [{"offset": 0, "color": "#585db5"}, {"offset": 0.5, "color": "#98a3da"}, {"offset": 1, "color": "#e4f4fd"}]}},
      "encoding": {
        "x": {"field": "c", "type": "ordinal", "scale": {"paddingInner": 0.2, "paddingOuter": 0.3},
          "axis": {"labelAngle": 0, "bandPosition": 0.5, "title": "Conductivity/(S·m⁻¹)", "titlePadding": 27}},
        "y": {"field": "m", "type": "quantitative", "scale": {"domain": [0, 1], "nice": false},
          "axis": {"values": [0, 0.2, 0.4, 0.6, 0.8, 1], "labelExpr": "datum.value == 0 ? '0' : format(datum.value, '.1f')", "title": "Circular dichroism (MAX)", "titlePadding": 30}}
      }
    }
  ],
  "config": {
    "font": "Liberation Serif",
    "view": {"stroke": "#1a1a1a", "strokeWidth": 3.5},
    "axis": {
      "domainColor": "#1a1a1a", "domainWidth": 3.5,
      "tickColor": "#1a1a1a", "tickWidth": 3.5, "tickSize": -13,
      "labelFont": "Liberation Serif", "labelFontSize": 51, "labelColor": "#1a1a1a", "labelPadding": 38,
      "labelFlush": false, "labelOverlap": false, "labelBound": false,
      "titleFont": "Liberation Serif", "titleFontSize": 55, "titleFontWeight": "normal", "titleColor": "#1a1a1a",
      "grid": false
    },
    "legend": {
      "title": null, "symbolStrokeWidth": 4.5,
      "labelFont": "Liberation Serif", "labelFontSize": 49, "labelColor": "#1a1a1a", "labelOffset": 33.5,
      "rowPadding": 0, "columnPadding": 46, "padding": 0
    },
    "title": {"font": "Liberation Serif", "fontSize": 50, "fontWeight": "normal", "color": "#1a1a1a", "anchor": "start", "frame": "group", "offset": 0}
  }
}
